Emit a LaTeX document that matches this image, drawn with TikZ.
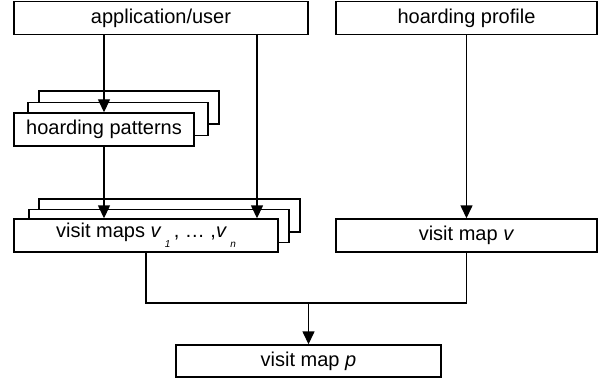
\documentclass[tikz,border=0pt]{standalone}
\usepackage{fontspec}
\setmainfont{Liberation Sans}
\usetikzlibrary{arrows.meta}

\tikzset{
  box/.style={draw, fill=white, line width=0.7pt, minimum height=16.5pt, inner sep=0pt},
  flow/.style={line width=0.7pt, -{Triangle[width=6pt,length=6.5pt]}},
  joinline/.style={line width=0.7pt}
}
\newcommand{\sub}[1]{\raisebox{-0.9ex}{\tiny\textit{#1}}}

\begin{document}
\begin{tikzpicture}[x=0.5pt,y=-0.5pt, font=\fontsize{10}{12}\selectfont]
\useasboundingbox (0,0) rectangle (615,385);

% top row
\node [box, minimum width=147pt] (app) at (161,18) {application/user};
\node [box, minimum width=130.5pt] (prof) at (466.5,18) {hoarding profile};

% hoarding patterns, stacked
\node [box, minimum width=90pt] (pat3) at (129,107.5) {};
\node [box, minimum width=90pt] (pat2) at (118,119) {};
\node [box, minimum width=90pt] (pat) at (104,129.5) {hoarding patterns};

% visit maps, stacked
\node [box, minimum width=130.5pt] (maps3) at (169.5,215.5) {};
\node [box, minimum width=130pt] (maps2) at (159,226) {};
\node [box, minimum width=132pt] (maps) at (146,235.5) {visit maps \textit{v}\,\sub{1}\,, … ,\textit{v}\,\sub{n}};

% single maps
\node [box, minimum width=130.5pt] (mapv) at (466.5,235.5) {visit map \textit{v}};
\node [box, minimum width=132.5pt, minimum height=16pt] (mapp) at (308.5,361) {visit map \textit{p}};

% arrows
\coordinate (tap) at (257,34);
\coordinate (jn) at (308.5,303);
\draw [flow] (app.south -| pat.north) -- (pat.north);
\draw [flow] (pat.south) -- (pat.south |- maps.north);
\draw [flow] (tap) -- (tap |- maps.north);
\draw [flow] (prof.south) -- (mapv.north);
\draw [joinline] (maps.south) |- (jn) -| (mapv.south);
\draw [flow] (jn) -- (mapp.north);

\end{tikzpicture}
\end{document}
